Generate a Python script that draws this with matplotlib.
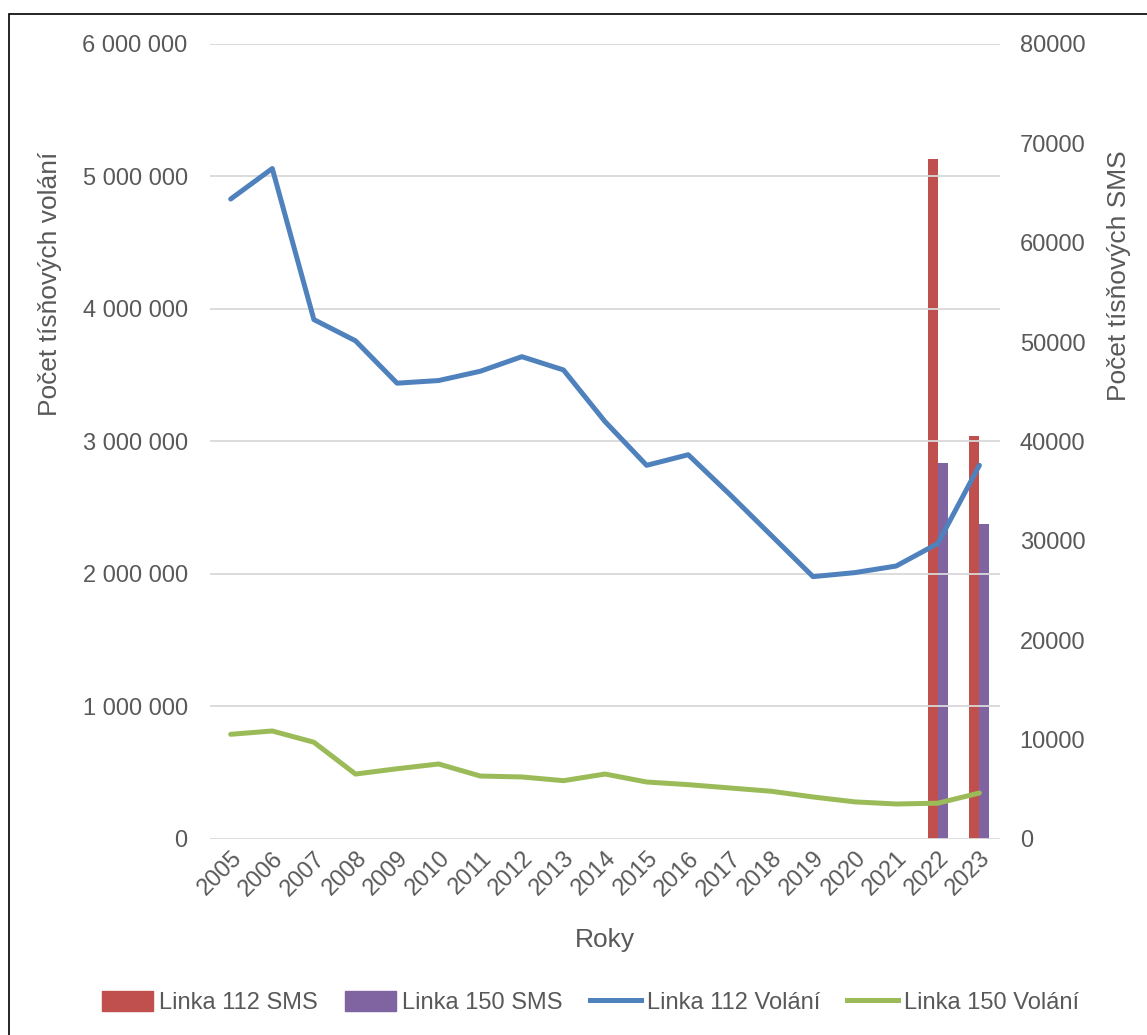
import matplotlib.pyplot as plt
import numpy as np
from matplotlib.lines import Line2D
from matplotlib.patches import Patch
from matplotlib.ticker import FuncFormatter

plt.rcParams["font.family"] = ["Liberation Sans", "DejaVu Sans"]

# ---------------------------------------------------------------------------
# Data
# ---------------------------------------------------------------------------

years = [str(y) for y in range(2005, 2024)]

calls_112 = [4830000, 5060000, 3920000, 3760000, 3440000, 3460000, 3530000,
             3640000, 3540000, 3150000, 2820000, 2900000, 2600000, 2290000,
             1980000, 2010000, 2060000, 2230000, 2820000]
calls_150 = [790000, 815000, 730000, 490000, 530000, 566000, 475000,
             468000, 440000, 490000, 430000, 410000, 385000, 360000,
             317000, 280000, 264000, 270000, 347000]

sms_years = ["2022", "2023"]
sms_112 = [68400, 40550]
sms_150 = [37850, 31700]

C_RED = "#C0504D"
C_PURPLE = "#8064A2"
C_BLUE = "#4F81BD"
C_GREEN = "#9BBB59"
C_TEXT = "#595959"
FS = 17


def space_thousands(v, pos):
    return f"{int(v):,}".replace(",", " ")


fig = plt.figure(figsize=(11.47, 10.35), dpi=100)
ax = fig.add_axes([0.183, 0.1894, 0.689, 0.7681])
ax2 = ax.twinx()

x = np.arange(len(years))
ax.plot(x, calls_112, color=C_BLUE, lw=3.6, solid_capstyle="round", zorder=3)
ax.plot(x, calls_150, color=C_GREEN, lw=3.6, solid_capstyle="round", zorder=3)

# SMS bars on secondary axis
bar_w = 0.24
sx = np.array([years.index(y) for y in sms_years])
ax2.bar(sx - bar_w / 2, sms_112, bar_w, color=C_RED, zorder=1)
ax2.bar(sx + bar_w / 2, sms_150, bar_w, color=C_PURPLE, zorder=1)

# lines above bars
ax.set_zorder(ax2.get_zorder() + 1)
ax.patch.set_visible(False)

ax.set_xlim(-0.5, len(years) - 0.5)
ax.set_ylim(0, 6000000)
ax.set_yticks(np.arange(0, 6000001, 1000000))
ax.yaxis.set_major_formatter(FuncFormatter(space_thousands))
ax2.set_ylim(0, 80000)
ax2.set_yticks(np.arange(0, 80001, 10000))

ax.set_xticks(x)
ax.set_xticklabels(years, rotation=45, ha="right", rotation_mode="anchor")

ax.grid(axis="y", color="#D9D9D9", lw=1.3)
ax.set_axisbelow(True)
for a in (ax, ax2):
    for s in a.spines.values():
        s.set_visible(False)
    a.tick_params(length=0, labelsize=FS, labelcolor=C_TEXT)
ax.tick_params(axis="y", pad=16)
ax.tick_params(axis="x", pad=6)
ax2.tick_params(axis="y", pad=14)

ax.set_ylabel("Počet tísňových volání", fontsize=19, color=C_TEXT,
              va="center", ha="center")
ax.yaxis.set_label_coords(-0.2025, 0.698)
ax2.set_ylabel("Počet tísňových SMS", fontsize=19, color=C_TEXT,
               va="center", ha="center", rotation=90)
ax2.yaxis.set_label_coords(1.1506, 0.709)
ax.set_xlabel("Roky", fontsize=19, color=C_TEXT)
ax.xaxis.set_label_coords(0.5, -0.112)

handles = [
    Patch(color=C_RED, label="Linka 112 SMS"),
    Patch(color=C_PURPLE, label="Linka 150 SMS"),
    Line2D([], [], color=C_BLUE, lw=3.6, label="Linka 112 Volání"),
    Line2D([], [], color=C_GREEN, lw=3.6, label="Linka 150 Volání"),
]
leg = fig.legend(handles=handles, loc="center", bbox_to_anchor=(0.515, 0.031),
                 ncol=4, frameon=False, fontsize=FS, handlelength=2.16,
                 handleheight=0.9, handletextpad=0.25, columnspacing=1.15)
for t in leg.get_texts():
    t.set_color(C_TEXT)

# outer frame (left and top edges visible)
frame = plt.Rectangle((9 / 1147, -0.05), 1.2, 1.05 - 14 / 1035,
                      transform=fig.transFigure, fill=False, ec="black", lw=1.2)
fig.patches.append(frame)

fig.savefig("out.png", dpi=100)
